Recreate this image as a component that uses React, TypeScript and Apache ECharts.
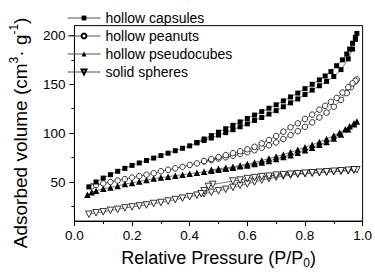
import React, { useEffect, useRef } from 'react';
import * as echarts from 'echarts';

const FONT = '"Liberation Sans", Arial, sans-serif';

const seriesNames = ['hollow capsules', 'hollow peanuts', 'hollow pseudocubes', 'solid spheres'];

const xTicks = [0, 0.2, 0.4, 0.6, 0.8, 1.0];
const yMajor = [50, 100, 150, 200];
const yMinor = [25, 75, 125, 175];

// [P/P0, volume] adsorption then desorption branch
const capsulesAds = [
  [0.05, 45], [0.075, 50], [0.1, 54], [0.125, 57.5], [0.15, 61], [0.175, 64], [0.2, 67], [0.225, 69.5],
  [0.25, 72], [0.275, 74.5], [0.3, 77], [0.325, 79.5], [0.35, 82], [0.375, 84.5], [0.4, 87], [0.425, 90],
  [0.45, 92.5], [0.475, 95], [0.5, 98], [0.525, 100.5], [0.55, 103.5], [0.575, 106.5], [0.6, 109.5],
  [0.625, 113], [0.65, 116], [0.675, 119.5], [0.7, 123], [0.725, 127], [0.75, 131], [0.775, 135],
  [0.8, 139.5], [0.825, 144], [0.85, 148.5], [0.875, 153], [0.9, 158], [0.925, 165], [0.95, 176],
  [0.965, 186], [0.975, 196], [0.98, 202],
];
const capsulesDes = [
  [0.975, 198], [0.965, 192], [0.955, 186], [0.945, 181], [0.93, 175], [0.91, 169], [0.89, 163],
  [0.87, 158.5], [0.85, 154.5], [0.825, 150], [0.8, 145.5], [0.775, 141], [0.75, 137], [0.725, 133],
  [0.7, 129], [0.675, 125.5], [0.65, 122], [0.625, 118.5], [0.6, 115], [0.575, 111.5], [0.55, 108],
  [0.525, 104.5], [0.5, 101], [0.475, 97.5], [0.45, 94], [0.425, 90.5],
];

const peanutsAds = [
  [0.06, 45.5], [0.075, 47], [0.1, 48.5], [0.125, 50], [0.15, 51.5], [0.175, 53], [0.2, 54.5], [0.225, 56],
  [0.25, 57.5], [0.275, 59], [0.3, 61], [0.325, 62.5], [0.35, 64], [0.375, 65.5], [0.4, 67.5], [0.425, 69],
  [0.45, 71], [0.475, 72.5], [0.5, 74], [0.525, 75.3], [0.55, 76.8], [0.575, 78.5], [0.6, 80.5],
  [0.625, 82.5], [0.65, 85], [0.675, 87.5], [0.7, 90.5], [0.725, 94], [0.75, 98], [0.775, 102],
  [0.8, 106.5], [0.825, 111], [0.85, 116], [0.875, 121], [0.9, 127], [0.925, 134], [0.945, 141],
  [0.96, 147], [0.975, 153], [0.98, 155],
];
const peanutsDes = [
  [0.975, 153.5], [0.965, 151], [0.95, 147], [0.93, 141.5], [0.91, 136], [0.89, 132], [0.87, 128],
  [0.85, 124], [0.825, 119], [0.8, 114.5], [0.775, 110], [0.75, 106], [0.725, 101.5], [0.7, 97],
  [0.675, 93], [0.65, 89.5], [0.625, 86], [0.6, 83.5], [0.575, 81.5], [0.55, 79.5], [0.525, 77.5],
  [0.5, 75.5], [0.475, 73.5], [0.45, 71.5],
];

const pseudocubesAds = [
  [0.045, 37], [0.06, 39.5], [0.075, 41], [0.1, 43], [0.125, 44.5], [0.15, 46], [0.175, 48], [0.2, 49],
  [0.225, 50.5], [0.25, 52], [0.275, 53.5], [0.3, 54.5], [0.325, 55.5], [0.35, 56.5], [0.375, 57.5],
  [0.4, 58.5], [0.425, 59.5], [0.45, 60.5], [0.475, 61.5], [0.5, 62.5], [0.525, 63.5], [0.55, 64.5],
  [0.575, 66], [0.6, 67], [0.625, 68.5], [0.65, 70], [0.675, 71.5], [0.7, 73.5], [0.725, 75.5],
  [0.75, 77.5], [0.775, 80], [0.8, 82.5], [0.825, 85], [0.85, 88], [0.875, 91], [0.9, 94.5],
  [0.925, 98.5], [0.95, 104], [0.97, 109], [0.98, 112],
];
const pseudocubesDes = [
  [0.97, 110], [0.955, 107], [0.94, 104], [0.92, 100.5], [0.9, 97.5], [0.875, 94], [0.85, 91],
  [0.825, 88], [0.8, 85.5], [0.775, 83], [0.75, 80.5], [0.725, 78], [0.7, 76], [0.675, 74], [0.65, 72],
  [0.625, 70], [0.6, 68.5], [0.575, 67], [0.55, 65.5], [0.525, 64.5], [0.5, 63.5], [0.475, 62.5],
];

const spheresAds = [
  [0.05, 17], [0.075, 18.5], [0.1, 19.5], [0.125, 21], [0.15, 22], [0.175, 23.5], [0.2, 24.5],
  [0.225, 25.5], [0.25, 26.5], [0.275, 28], [0.3, 29], [0.325, 30.5], [0.35, 32], [0.375, 33.5],
  [0.4, 35], [0.425, 36.5], [0.45, 38], [0.475, 39.5], [0.5, 41], [0.525, 42.5], [0.55, 44.5],
  [0.575, 46.5], [0.6, 48], [0.625, 50], [0.65, 52], [0.675, 53.5], [0.7, 55], [0.725, 56], [0.75, 57],
  [0.775, 58], [0.8, 58.5], [0.825, 59], [0.85, 59.5], [0.875, 60], [0.9, 60.5], [0.925, 61],
  [0.95, 61.5], [0.97, 62], [0.98, 62.5],
];
const spheresDes = [
  [0.97, 62.5], [0.95, 62], [0.925, 61.5], [0.9, 61], [0.875, 60.5], [0.85, 60], [0.825, 59.5],
  [0.8, 59], [0.775, 58.5], [0.75, 58], [0.725, 57.5], [0.7, 57], [0.675, 56], [0.65, 55.5],
  [0.625, 54.5], [0.6, 53.5], [0.575, 52], [0.55, 51], [0.48, 47.5], [0.465, 45.5], [0.45, 41], [0.44, 38],
];

const seriesData = [
  [...capsulesAds, ...capsulesDes],
  [...peanutsAds, ...peanutsDes],
  [...pseudocubesAds, ...pseudocubesDes],
  [...spheresAds, ...spheresDes],
];

const symbols = [
  { symbol: 'rect', size: 5, fill: '#000', rotate: 0 },
  { symbol: 'circle', size: 5.5, fill: '#fff', rotate: 0 },
  { symbol: 'triangle', size: 6.5, fill: '#000', rotate: 0 },
  { symbol: 'triangle', size: 6.5, fill: '#fff', rotate: 180 },
];

export default function App() {
  const ref = useRef<HTMLDivElement>(null);
  useEffect(() => {
    document.body.style.margin = '0';
    const chart = echarts.init(ref.current!, null, { renderer: 'svg' });
    chart.setOption({
      animation: false,
      backgroundColor: '#fff',
      textStyle: { fontFamily: FONT },
      grid: {
        left: 55, right: 12, top: 3, bottom: 44,
        show: true, borderColor: '#000', borderWidth: 1, backgroundColor: 'transparent',
      },
      legend: {
        orient: 'vertical',
        left: 62,
        top: 6,
        itemWidth: 33,
        itemHeight: 6,
        itemGap: 4,
        data: seriesNames,
        lineStyle: { color: '#555', width: 1 },
        textStyle: { fontSize: 14, color: '#000', fontFamily: FONT, lineHeight: 14 },
      },
      xAxis: {
        type: 'value',
        min: 0,
        max: 1,
        interval: 0.2,
        name: 'Relative Pressure (P/P{sub|0})',
        nameLocation: 'middle',
        nameGap: 19,
        nameTextStyle: {
          fontSize: 18, color: '#000', fontFamily: FONT, lineHeight: 22,
          rich: { sub: { fontSize: 12, verticalAlign: 'bottom', lineHeight: 12, fontFamily: FONT, color: '#000' } },
        },
        axisLine: { show: true, lineStyle: { color: '#000', width: 1 } },
        axisTick: { show: true, inside: false, length: 5, lineStyle: { color: '#000' } },
        minorTick: { show: true, splitNumber: 2, length: 3, lineStyle: { color: '#000' } },
        axisLabel: {
          fontSize: 13.5, color: '#000', fontFamily: FONT, margin: 7,
          formatter: (v: number) => v.toFixed(1),
        },
        splitLine: { show: false },
        minorSplitLine: { show: false },
      },
      yAxis: [
        {
          type: 'value',
          min: 10,
          max: 210,
          position: 'left',
          name: 'Adsorbed volume (cm{sup|3}· g{sup|-1})',
          nameLocation: 'middle',
          nameGap: 28,
          nameRotate: 90,
          nameTextStyle: {
            fontSize: 19, color: '#000', fontFamily: FONT, lineHeight: 24, padding: [0, 19, 0, 0],
            rich: { sup: { fontSize: 12, verticalAlign: 'top', lineHeight: 12, fontFamily: FONT, color: '#000' } },
          },
          axisLine: { show: true, lineStyle: { color: '#000', width: 1 } },
          axisTick: { show: true, inside: false, length: 5, customValues: yMajor, lineStyle: { color: '#000' } },
          axisLabel: { customValues: yMajor, fontSize: 13.5, color: '#000', fontFamily: FONT, margin: 9 },
          splitLine: { show: false },
        },
        {
          type: 'value',
          min: 10,
          max: 210,
          position: 'left',
          axisLine: { show: false },
          axisTick: { show: true, inside: false, length: 3, customValues: yMinor, lineStyle: { color: '#000' } },
          axisLabel: { show: false },
          splitLine: { show: false },
        },
      ],
      series: seriesNames.map((name, i) => ({
        name,
        type: 'line',
        yAxisIndex: 0,
        data: seriesData[i],
        symbol: symbols[i].symbol,
        symbolSize: symbols[i].size,
        symbolRotate: symbols[i].rotate,
        showSymbol: true,
        showAllSymbol: true,
        lineStyle: { color: '#555', width: 0.8 },
        itemStyle: { color: symbols[i].fill, borderColor: '#000', borderWidth: symbols[i].fill === '#fff' ? 0.8 : 0 },
        emphasis: { disabled: true },
        z: 10 - i,
      })),
    });
    return () => chart.dispose();
  }, []);
  return <div ref={ref} style={{ width: 375, height: 274 }} />;
}
